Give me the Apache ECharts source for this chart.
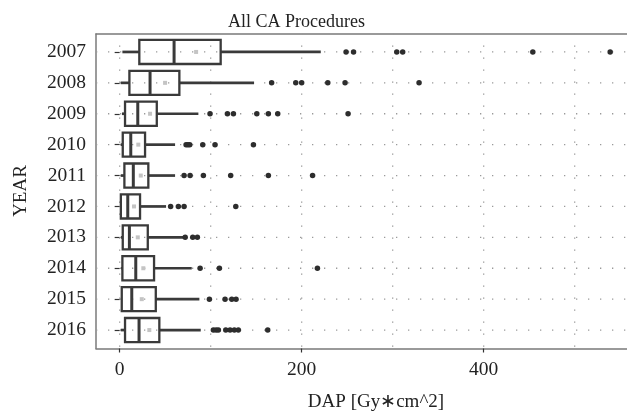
<!DOCTYPE html>
<html><head><meta charset="utf-8">
<script src="https://cdn.jsdelivr.net/npm/echarts@6/dist/echarts.min.js"></script>
<style>html,body{margin:0;padding:0;background:#fff}#c{width:627px;height:411px}</style>
</head><body><div id="c"></div>
<script>
const years = ['2007','2008','2009','2010','2011','2012','2013','2014','2015','2016'];
const whiskerLow  = [3, 1.2, 2.6, 1.2, 1.2, 0.5, 1.5, 1.5, 1.5, 1.2];
const q1          = [21.6, 10.7, 5.9, 3.4, 5.2, 1.3, 3.4, 3, 2.3, 5.9];
const median      = [59.8, 33.4, 19.9, 12.2, 15, 8.9, 10.7, 17.7, 13.3, 21.3];
const q3          = [111, 65.6, 40.8, 27.9, 31.5, 22.4, 30.9, 37.8, 39.7, 43.6];
const whiskerHigh = [221, 147.7, 86.5, 60.9, 60.9, 51, 69.7, 79.2, 87.6, 89.1];
const mean        = [84, 49.9, 33.4, 20.5, 23.2, 15.8, 19.9, 26, 24.3, 32.6];
const outliers = [
  [248.8, 257, 304.5, 311, 454, 539],
  [167, 193.5, 200, 228.7, 247.7, 329],
  [99.3, 118.4, 125, 150.7, 163.4, 173.7, 251],
  [73, 75, 77, 91.3, 104.8, 147],
  [70.8, 77.4, 92, 122, 163.4, 212],
  [56, 64.5, 70.8, 127.6],
  [72, 80.3, 85.4],
  [88.4, 109.6, 217.3],
  [98.6, 115.8, 123.2, 127.9],
  [103, 106, 108.5, 116.6, 121.3, 126, 130.4, 162.7]
];
const xTicks = [0, 200, 400];
const xGridValues = [0, 100, 200, 300, 400, 500];

const FONT = "'Liberation Serif', 'Times New Roman', serif";
const INK = '#3a3a3a';
const GRIDC = '#9a9a9a';
const FRAME = '#7a7a7a';

const boxData = years.map((y, i) => [y, whiskerLow[i], q1[i], median[i], q3[i], whiskerHigh[i], mean[i]]);
const outlierData = [];
outliers.forEach((arr, i) => arr.forEach(v => outlierData.push([v, years[i]])));

function renderBox(params, api) {
  const yi = api.value(0);
  const lo = api.coord([api.value(1), yi]);
  const b1 = api.coord([api.value(2), yi]);
  const md = api.coord([api.value(3), yi]);
  const b3 = api.coord([api.value(4), yi]);
  const hi = api.coord([api.value(5), yi]);
  const mn = api.coord([api.value(6), yi]);
  const h = api.size([0, 1])[1] * 0.78;
  const cy = lo[1];
  return {type: 'group', children: [
    {type: 'line', shape: {x1: lo[0], y1: cy, x2: b1[0], y2: cy}, style: {stroke: INK, lineWidth: 2.7}},
    {type: 'line', shape: {x1: b3[0], y1: cy, x2: hi[0], y2: cy}, style: {stroke: INK, lineWidth: 2.7}},
    {type: 'rect', shape: {x: b1[0], y: cy - h / 2, width: b3[0] - b1[0], height: h}, style: {fill: 'none', stroke: INK, lineWidth: 2.3}},
    {type: 'line', shape: {x1: md[0], y1: cy - h / 2, x2: md[0], y2: cy + h / 2}, style: {stroke: INK, lineWidth: 3}},
    {type: 'rect', shape: {x: mn[0] - 2, y: cy - 2, width: 4, height: 4}, style: {fill: '#c4c4c4'}}
  ]};
}
function renderVGrid(params, api) {
  const cs = params.coordSys;
  const ext = api.size([0, 1])[1] * 0.1;
  const p = api.coord([api.value(0), years[0]]);
  return {type: 'line', shape: {x1: p[0], y1: cs.y - ext, x2: p[0], y2: cs.y + cs.height + ext},
    style: {stroke: GRIDC, lineWidth: 1.3, lineDash: [1.3, 10.7]}};
}
function renderHGrid(params, api) {
  const cs = params.coordSys;
  const p = api.coord([0, api.value(0)]);
  return {type: 'line', shape: {x1: cs.x, y1: p[1], x2: cs.x + cs.width, y2: p[1]},
    style: {stroke: GRIDC, lineWidth: 1.3, lineDash: [1.3, 10.7]}};
}

const chart = echarts.init(document.getElementById('c'), null, {renderer: 'canvas'});
chart.setOption({
  animation: false,
  backgroundColor: '#fff',
  textStyle: {fontFamily: FONT},
  title: {text: 'All CA Procedures', left: 228, top: 13, padding: 0,
    textStyle: {fontFamily: FONT, fontSize: 18, fontWeight: 'normal', color: '#222'}},
  grid: [
    {left: 96, top: 36.5, right: 0, height: 309, outerBoundsMode: 'none', containLabel: false},
    {left: 96, top: 34, right: 0, height: 314.5, show: false, outerBoundsMode: 'none', containLabel: false}
  ],
  xAxis: [
    {type: 'value', gridIndex: 0, min: -26, max: 557.5, offset: 3,
      axisLine: {show: false},
      axisTick: {show: true, customValues: xTicks, length: 4, lineStyle: {color: '#333', width: 1.2}},
      axisLabel: {customValues: xTicks, fontFamily: FONT, fontSize: 19.5, color: '#222', margin: 11},
      splitLine: {show: false},
      name: 'DAP [Gy\u2217cm^2]', nameLocation: 'middle', nameGap: 44,
      nameTextStyle: {fontFamily: FONT, fontSize: 19, color: '#222', padding: [0, 0, 0, 29]}},
    {type: 'value', gridIndex: 1, position: 'bottom', min: 0, max: 1,
      axisLine: {show: true, onZero: false, lineStyle: {color: FRAME, width: 1.5}},
      axisTick: {show: false}, axisLabel: {show: false}, splitLine: {show: false}},
    {type: 'value', gridIndex: 1, position: 'top', min: 0, max: 1,
      axisLine: {show: true, onZero: false, lineStyle: {color: FRAME, width: 1.5}},
      axisTick: {show: false}, axisLabel: {show: false}, splitLine: {show: false}}
  ],
  yAxis: [
    {type: 'category', gridIndex: 0, data: years, inverse: true,
      axisLine: {show: false},
      axisTick: {show: true, alignWithLabel: true, length: 5, lineStyle: {color: '#333', width: 1.2}},
      axisLabel: {fontFamily: FONT, fontSize: 19.5, color: '#222', margin: 10},
      splitLine: {show: false},
      name: 'YEAR', nameLocation: 'middle', nameGap: 65,
      nameTextStyle: {fontFamily: FONT, fontSize: 19, color: '#222'}},
    {type: 'value', gridIndex: 1, position: 'left', min: 0, max: 1,
      axisLine: {show: true, onZero: false, lineStyle: {color: FRAME, width: 1.5}},
      axisTick: {show: false}, axisLabel: {show: false}, splitLine: {show: false}}
  ],
  series: [
    {type: 'custom', name: 'vgrid', xAxisIndex: 0, yAxisIndex: 0, silent: true, z: 1,
      renderItem: renderVGrid, data: xGridValues.map(v => [v]), encode: {x: 0}},
    {type: 'custom', name: 'hgrid', xAxisIndex: 0, yAxisIndex: 0, silent: true, z: 1,
      renderItem: renderHGrid, data: years.map(y => [y]), encode: {y: 0}},
    {type: 'custom', name: 'box', xAxisIndex: 0, yAxisIndex: 0, z: 3,
      renderItem: renderBox, data: boxData, encode: {x: [1, 2, 3, 4, 5, 6], y: 0}},
    {type: 'scatter', name: 'outliers', xAxisIndex: 0, yAxisIndex: 0, z: 4,
      data: outlierData, symbolSize: 5.5, itemStyle: {color: '#2d2d2d', opacity: 1}}
  ]
});
</script></body></html>
